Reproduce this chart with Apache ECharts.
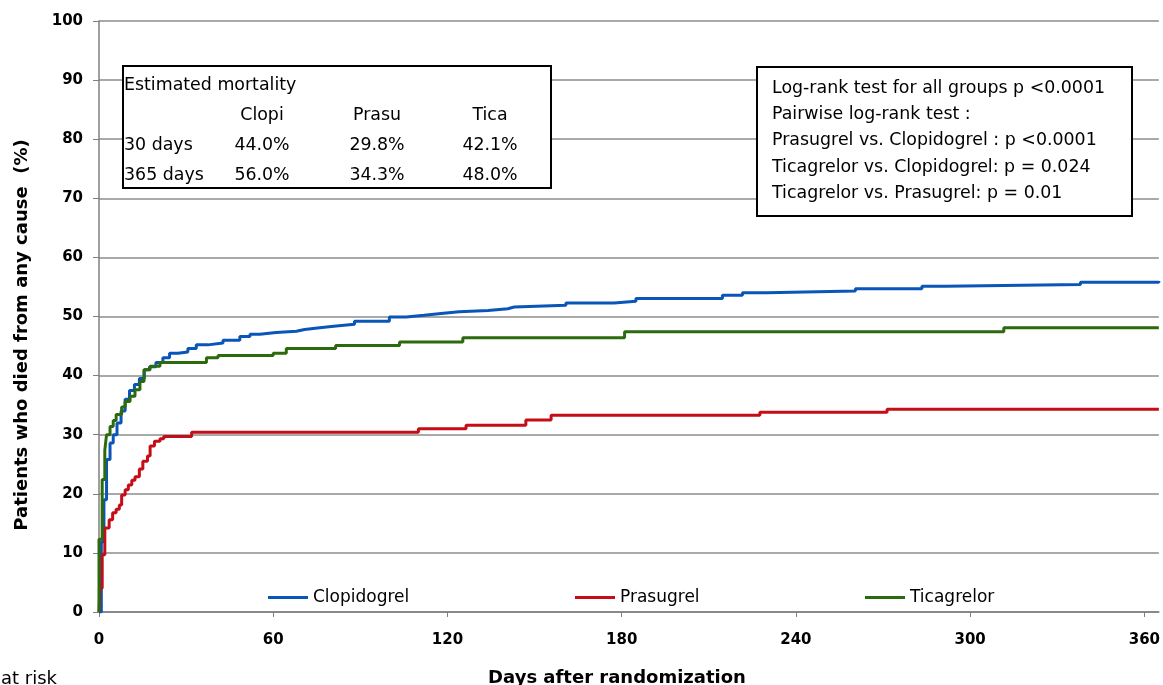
<!DOCTYPE html>
<html>
<head>
<meta charset="utf-8">
<script src="https://cdn.jsdelivr.net/npm/echarts@6/dist/echarts.min.js"></script>
<style>
html,body{margin:0;padding:0;background:#fff;}
#chart{width:1163px;height:685px;}
</style>
</head>
<body>
<div id="chart"></div>
<script>
// Kaplan-Meier style curves: [day, % dead]
var clopiDays = [0, 0.8, 1.7, 2.6, 3.8, 4.9, 6.2, 7.6, 9, 10.5, 12.2, 13.9, 15.6, 17.4, 19.6, 22, 24.3, 27.2, 30.6, 33.5, 37.5, 42.7, 48.5, 52, 55.4, 61, 68, 70.8, 76, 81.7, 88, 100, 105.8, 112, 117.8, 124, 134, 140.8, 143, 160.8, 177.4, 184.9, 214.7, 221.6, 230, 260.5, 283.4, 291.5, 338, 365];
var clopiVals = [0, 11.9, 19, 25.8, 28.6, 30, 32, 34, 36, 37.5, 38.5, 39.5, 41, 41.5, 42.2, 43, 43.8, 44.0, 44.6, 45.2, 45.5, 46, 46.6, 47, 47.3, 47.5, 47.8, 48.1, 48.4, 48.7, 49.2, 49.9, 50.2, 50.5, 50.8, 51.0, 51.3, 51.6, 51.9, 52.3, 52.6, 53.05, 53.6, 54.0, 54.3, 54.7, 55.1, 55.4, 55.8, 56.0];

var prasuDays = [0, 0.3, 1.1, 2, 3.5, 4.7, 5.9, 7, 7.8, 9, 10.1, 11.3, 12.4, 13.9, 15.1, 16.7, 17.6, 19.1, 21, 22.3, 31.9, 110, 126.4, 147, 155.7, 227.6, 271.4, 365];
var prasuVals = [0, 4.0, 9.7, 14.2, 15.6, 16.8, 17.4, 18.1, 19.8, 20.7, 21.5, 22.3, 22.9, 24.2, 25.5, 26.4, 28.1, 28.9, 29.3, 29.7, 30.4, 31.0, 31.6, 32.5, 33.3, 33.8, 34.3, 34.3];

var ticaDays = [0, 0, 1.1, 2, 2.6, 3.8, 4.9, 5.9, 7.8, 9, 10.7, 12.4, 14.1, 15.5, 17.6, 21, 37, 41, 60, 64.5, 81.5, 103.5, 125.3, 181, 311.6, 365];
var ticaVals = [0, 12.3, 22.4, 27.4, 30, 31.4, 32.4, 33.4, 34.7, 35.6, 36.5, 37.6, 39.0, 41.0, 41.6, 42.2, 43.0, 43.4, 43.8, 44.6, 45.1, 45.7, 46.4, 47.4, 48.1, 48.1];

var seriesNames = ['Clopidogrel', 'Prasugrel', 'Ticagrelor'];
var seriesColors = ['#0a56b8', '#c40d16', '#2d6a0e'];
var xTicks = [0, 60, 120, 180, 240, 300, 360];

// text boxes
var mortCols = ['Clopi', 'Prasu', 'Tica'];
var mortRows = ['30 days', '365 days'];
var mort30 = ['44.0%', '29.8%', '42.1%'];
var mort365 = ['56.0%', '34.3%', '48.0%'];
var testLines = [
  'Log-rank test for all groups p <0.0001',
  'Pairwise log-rank test :',
  'Prasugrel vs. Clopidogrel : p <0.0001',
  'Ticagrelor vs. Clopidogrel: p = 0.024',
  'Ticagrelor vs. Prasugrel: p = 0.01'
];

function pairs(d, v){
  var out = [];
  for (var i = 0; i < d.length; i++) out.push([d[i], v[i]]);
  return out;
}

var boxFont = '17.4px "DejaVu Sans"';
var graphics = [];
// mortality box
graphics.push({type:'rect', left:122, top:65, shape:{width:428, height:122}, style:{fill:'#fff', stroke:'#000', lineWidth:2}, z:10});
graphics.push({type:'text', x:124, y:85, style:{text:'Estimated mortality', font:boxFont, fill:'#000', verticalAlign:'middle'}, z:11});
var colX = [262, 377, 490];
for (var i = 0; i < 3; i++) {
  graphics.push({type:'text', x:colX[i], y:115, style:{text:mortCols[i], font:boxFont, fill:'#000', align:'center', verticalAlign:'middle'}, z:11});
  graphics.push({type:'text', x:colX[i], y:145, style:{text:mort30[i], font:boxFont, fill:'#000', align:'center', verticalAlign:'middle'}, z:11});
  graphics.push({type:'text', x:colX[i], y:175, style:{text:mort365[i], font:boxFont, fill:'#000', align:'center', verticalAlign:'middle'}, z:11});
}
graphics.push({type:'text', x:124, y:145, style:{text:mortRows[0], font:boxFont, fill:'#000', verticalAlign:'middle'}, z:11});
graphics.push({type:'text', x:124, y:175, style:{text:mortRows[1], font:boxFont, fill:'#000', verticalAlign:'middle'}, z:11});
// test box
graphics.push({type:'rect', left:756, top:66, shape:{width:375, height:149}, style:{fill:'#fff', stroke:'#000', lineWidth:2}, z:10});
var testY = [88, 114, 140, 167, 193];
for (var j = 0; j < testLines.length; j++) {
  graphics.push({type:'text', x:772, y:testY[j], style:{text:testLines[j], font:boxFont, fill:'#000', verticalAlign:'middle'}, z:11});
}
// axis titles
graphics.push({type:'text', x:22, y:335, rotation:Math.PI/2, style:{text:'Patients who died from any cause  (%)', font:'bold 18px "DejaVu Sans"', fill:'#000', align:'center', verticalAlign:'middle'}});
graphics.push({type:'text', x:617, y:678, style:{text:'Days after randomization', font:'bold 18px "DejaVu Sans"', fill:'#000', align:'center', verticalAlign:'middle'}});
graphics.push({type:'text', x:1, y:679, style:{text:'at risk', font:'18px "DejaVu Sans"', fill:'#000', verticalAlign:'middle'}});

var legendLeft = [263, 570, 860];
var legends = [];
for (var k = 0; k < 3; k++) {
  legends.push({
    data:[seriesNames[k]], left:legendLeft[k], top:584, icon:'rect', itemWidth:40, itemHeight:3, itemGap:4,
    textStyle:{fontFamily:'DejaVu Sans', fontSize:17, color:'#000'}, selectedMode:false
  });
}

var dataSets = [pairs(clopiDays, clopiVals), pairs(prasuDays, prasuVals), pairs(ticaDays, ticaVals)];
var series = [];
for (var s = 0; s < 3; s++) {
  series.push({
    name:seriesNames[s], type:'line', step:'end', showSymbol:false, symbol:'none',
    data:dataSets[s], lineStyle:{width:3, color:seriesColors[s]}, itemStyle:{color:seriesColors[s]},
    animation:false
  });
}

var myChart = echarts.init(document.getElementById('chart'));
var option = {
  backgroundColor:'#fff',
  animation:false,
  grid:{left:99, right:4, top:21, bottom:73},
  legend:legends,
  xAxis:{
    type:'value', min:0, max:365,
    axisLine:{lineStyle:{color:'#7f7f7f', width:1.5}},
    axisTick:{show:true, length:5, inside:false, customValues:xTicks, lineStyle:{color:'#7f7f7f'}},
    axisLabel:{customValues:xTicks, margin:21, fontFamily:'DejaVu Sans', fontWeight:'bold', fontSize:15, color:'#000'},
    splitLine:{show:false}
  },
  yAxis:{
    type:'value', min:0, max:100, interval:10,
    axisLine:{show:true, lineStyle:{color:'#7f7f7f', width:1.5}},
    axisTick:{show:true, length:6, lineStyle:{color:'#7f7f7f'}},
    axisLabel:{margin:16, fontFamily:'DejaVu Sans', fontWeight:'bold', fontSize:15, color:'#000'},
    splitLine:{show:true, lineStyle:{color:'#8c8c8c', width:1.5}}
  },
  graphic:graphics,
  series:series
};
myChart.setOption(option);
</script>
</body>
</html>
